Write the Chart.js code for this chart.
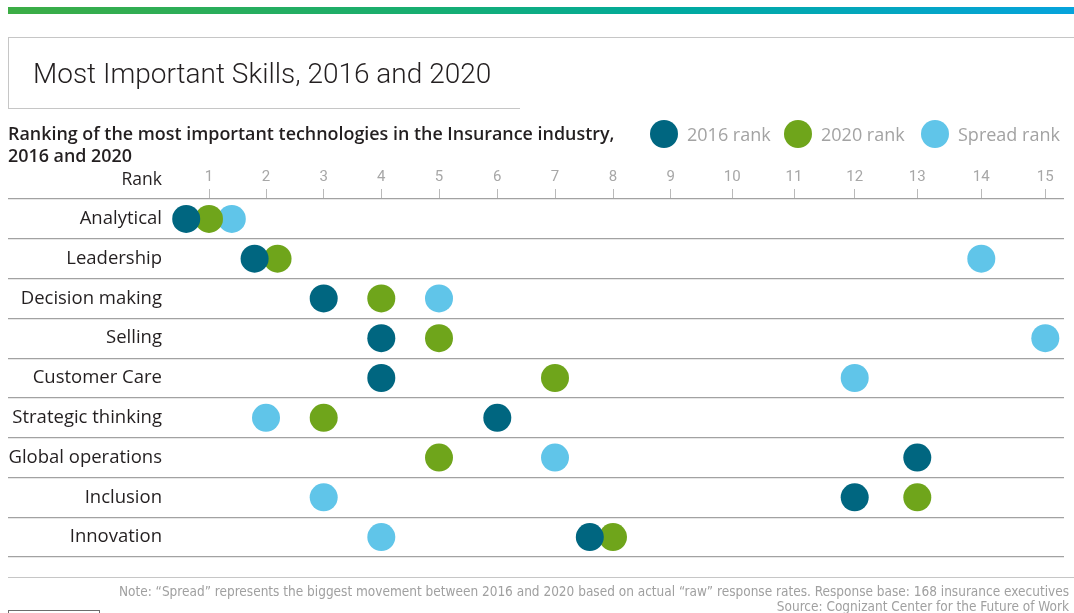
<!DOCTYPE html>
<html>
<head>
<meta charset="utf-8">
<script src="https://cdn.jsdelivr.net/npm/chart.js@4/dist/chart.umd.min.js"></script>
<style>
  html, body { margin: 0; padding: 0; background: #fff; }
  body { width: 1074px; height: 613px; position: relative; overflow: hidden; font-family: "Open Sans", Roboto, sans-serif; }
  #chart { position: absolute; left: 0; top: 0; }
  .abs { position: absolute; white-space: nowrap; }
  #bar { left: 8px; top: 7px; width: 1066px; height: 7px; background: linear-gradient(to right, #3cad45 0%, #16ae72 40%, #00aa9e 62%, #06a3dc 100%); }
  #topline { left: 8px; top: 37px; width: 1066px; height: 1px; background: #c6c6c6; }
  #titlebox { left: 8px; top: 37px; width: 512px; height: 72px; border-left: 1px solid #c6c6c6; border-bottom: 1px solid #c6c6c6; box-sizing: border-box; }
  #title { left: 33px; top: 56px; font-family: Roboto, sans-serif; font-size: 28px; font-weight: 300; color: #231f20; line-height: 36px; }
  #subtitle { left: 8px; top: 122px; font-size: 17.9px; font-weight: 600; color: #231f20; line-height: 22px; }
  #rank { right: 912px; top: 167px; font-size: 17.5px; font-weight: 400; color: #231f20; line-height: 22px; }
  .leg { top: 120px; height: 28px; display: flex; align-items: center; font-size: 18px; color: #a3a3a3; }
  .dot { width: 28px; height: 28px; border-radius: 50%; margin-right: 9px; }
  #bottomline { left: 8px; top: 577px; width: 1066px; height: 1px; background: #c6c6c6; }
  .note { right: 5px; font-size: 13.5px; color: #a0a0a0; font-family: "Liberation Sans Narrow", "DejaVu Sans Condensed", sans-serif; line-height: 15px; }
  #stub { left: 8px; top: 610px; width: 92px; height: 10px; border: 1px solid #6d6d6d; box-sizing: border-box; }
</style>
</head>
<body>
<canvas id="chart" width="1074" height="613"></canvas>
<div class="abs" id="bar"></div>
<div class="abs" id="topline"></div>
<div class="abs" id="titlebox"></div>
<div class="abs" id="title">Most Important Skills, 2016 and 2020</div>
<div class="abs" id="subtitle">Ranking of the most important technologies in the Insurance industry,<br>2016 and 2020</div>
<div class="abs" id="rank">Rank</div>
<div id="legend"></div>
<div class="abs" id="bottomline"></div>
<div class="abs note" style="top:584px">Note: “Spread” represents the biggest movement between 2016 and 2020 based on actual “raw” response rates. Response base: 168 insurance executives</div>
<div class="abs note" style="top:599px">Source: Cognizant Center for the Future of Work</div>
<div class="abs" id="stub"></div>
<script>
// ---- data ----
const categories = ["Analytical", "Leadership", "Decision making", "Selling", "Customer Care",
                    "Strategic thinking", "Global operations", "Inclusion", "Innovation"];
const seriesNames = ["2016 rank", "2020 rank", "Spread rank"];
// rank positions (coinciding ranks are drawn side by side)
const rank2016   = [0.6, 1.8, 3, 4, 4, 6, 13, 12, 7.6];
const rank2020   = [1,   2.2, 4, 5, 7, 3, 5,  13, 8];
const rankSpread = [1.4, 14,  5, 15, 12, 2, 7,  3,  4];
const rankTicks  = [1, 2, 3, 4, 5, 6, 7, 8, 9, 10, 11, 12, 13, 14, 15];

const colors = ["#006680", "#6fa51b", "#60c5e9"];

// ---- legend (HTML) ----
const legendX = [650, 784, 921];
const legend = document.getElementById('legend');
seriesNames.forEach((n, i) => {
  const d = document.createElement('div');
  d.className = 'abs leg';
  d.style.left = legendX[i] + 'px';
  d.innerHTML = '<span class="dot" style="background:' + colors[i] + '"></span>' + n;
  legend.appendChild(d);
});

// ---- a linear scale whose unit spacing follows the original (unevenly spaced) rank axis ----
const AXIS_DESIGN = { left: 170, width: 894,
  stops: [209, 266, 323.7, 381.3, 439, 497.3, 555, 613, 670.7, 732.3, 794, 854.7, 917.3, 981.3, 1045.3] };
class UnevenLinearScale extends Chart.LinearScale {
  _frac(v) {
    const s = AXIS_DESIGN.stops, n = s.length;
    let px;
    if (v <= 1) px = s[0] + (v - 1) * (s[1] - s[0]);
    else if (v >= n) px = s[n - 1] + (v - n) * (s[n - 1] - s[n - 2]);
    else {
      const i = Math.floor(v) - 1, t = v - Math.floor(v);
      px = s[i] + t * (s[i + 1] - s[i]);
    }
    return (px - AXIS_DESIGN.left) / AXIS_DESIGN.width;
  }
  getPixelForValue(v) {
    return this.left + this.width * this._frac(v);
  }
  getValueForPixel(p) {
    const s = AXIS_DESIGN.stops, n = s.length;
    const px = AXIS_DESIGN.left + (p - this.left) / this.width * AXIS_DESIGN.width;
    if (px <= s[0]) return 1 + (px - s[0]) / (s[1] - s[0]);
    if (px >= s[n - 1]) return n + (px - s[n - 1]) / (s[n - 1] - s[n - 2]);
    for (let i = 0; i < n - 1; i++) {
      if (px <= s[i + 1]) return i + 1 + (px - s[i]) / (s[i + 1] - s[i]);
    }
    return n;
  }
}
UnevenLinearScale.id = 'unevenLinear';
UnevenLinearScale.defaults = Chart.LinearScale.defaults;
Chart.register(UnevenLinearScale);

Chart.defaults.font.family = 'Roboto, "Open Sans", sans-serif';

const seriesValues = [rank2016, rank2020, rankSpread];
const datasets = seriesNames.map((name, s) => ({
  label: name,
  data: categories.map((c, i) => ({ x: seriesValues[s][i], y: c })),
  backgroundColor: colors[s],
  borderWidth: 0,
  pointRadius: 14,
  pointHoverRadius: 14,
  clip: false
}));

new Chart(document.getElementById('chart'), {
  type: 'scatter',
  data: { datasets },
  options: {
    responsive: false,
    animation: false,
    events: [],
    layout: { autoPadding: false, padding: { left: 8, right: 10, top: 159, bottom: 56 } },
    plugins: { legend: { display: false }, tooltip: { enabled: false }, title: { display: false } },
    scales: {
      x: {
        type: 'unevenLinear',
        position: 'top',
        min: 1, max: 15,
        afterBuildTicks: (scale) => { scale.ticks = rankTicks.map(v => ({ value: v })); },
        afterFit: (scale) => { scale.height = 40; scale.paddingLeft = 0; scale.paddingRight = 0; },
        grid: { drawOnChartArea: false, drawTicks: true, tickLength: 10, color: '#b9b9b9', lineWidth: 1 },
        border: { display: false },
        ticks: { color: '#a7a7a7', font: { size: 15 }, padding: 3, maxRotation: 0, autoSkip: false }
      },
      y: {
        type: 'category',
        labels: categories,
        offset: true,
        afterFit: (scale) => { scale.width = 162; scale.paddingTop = 0; scale.paddingBottom = 0; },
        grid: { offset: true, drawOnChartArea: true, drawTicks: true, tickLength: 162, color: '#a2a2a2', lineWidth: 1.2 },
        border: { display: false },
        ticks: { color: '#231f20', font: { size: 18.5, family: '"Open Sans", Roboto, sans-serif' }, padding: -154, autoSkip: false }
      }
    }
  }
});
</script>
</body>
</html>
